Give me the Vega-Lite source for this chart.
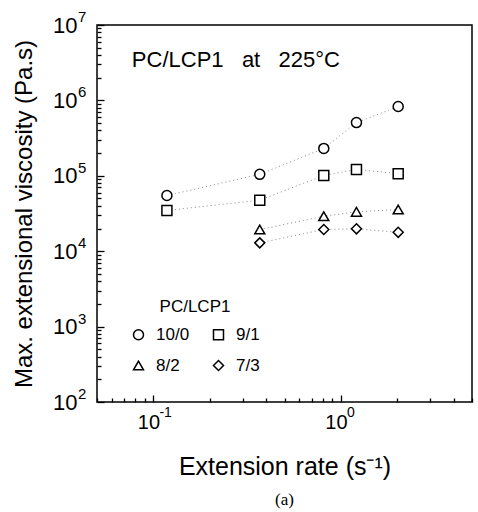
{
  "$schema": "https://vega.github.io/schema/vega-lite/v6.json",
  "width": 375,
  "height": 377,
  "autosize": {"type": "none"},
  "padding": {"left": 97, "top": 25, "right": 6, "bottom": 110},
  "config": {
    "font": "Liberation Sans",
    "view": {"stroke": "black", "strokeWidth": 1.5},
    "axis": {"grid": false, "domain": false, "ticks": true, "zindex": 1, "labelColor": "black", "titleColor": "black", "labelFont": "Liberation Sans", "titleFont": "Liberation Sans", "titleFontWeight": "normal", "labelFlush": false, "labelOverlap": false}
  },
  "title": {"text": "(a)", "orient": "bottom", "font": "Liberation Serif", "fontSize": 17, "fontWeight": "normal", "color": "black", "offset": 13},
  "datasets": {
    "pts": [
      {"series": "10/0", "rate": 0.118, "visc": 54800},
      {"series": "10/0", "rate": 0.369, "visc": 104500},
      {"series": "10/0", "rate": 0.81, "visc": 231000},
      {"series": "10/0", "rate": 1.21, "visc": 508000},
      {"series": "10/0", "rate": 2.02, "visc": 830000},
      {"series": "9/1", "rate": 0.118, "visc": 34700},
      {"series": "9/1", "rate": 0.369, "visc": 47500},
      {"series": "9/1", "rate": 0.81, "visc": 101000},
      {"series": "9/1", "rate": 1.21, "visc": 121600},
      {"series": "9/1", "rate": 2.02, "visc": 106600},
      {"series": "8/2", "rate": 0.369, "visc": 19400},
      {"series": "8/2", "rate": 0.81, "visc": 29100},
      {"series": "8/2", "rate": 1.21, "visc": 33300},
      {"series": "8/2", "rate": 2.02, "visc": 35700},
      {"series": "7/3", "rate": 0.369, "visc": 12900},
      {"series": "7/3", "rate": 0.81, "visc": 19400},
      {"series": "7/3", "rate": 1.21, "visc": 19800},
      {"series": "7/3", "rate": 2.02, "visc": 17800}
    ],
    "note": [
      {"rate": 0.0767, "visc": 3470000, "label": "PC/LCP1\u00a0\u00a0\u00a0at\u00a0\u00a0\u00a0225°C"}
    ],
    "yexp": [
      {"rate": 0.05, "visc": 100, "exp": "2"},
      {"rate": 0.05, "visc": 1000, "exp": "3"},
      {"rate": 0.05, "visc": 10000, "exp": "4"},
      {"rate": 0.05, "visc": 100000, "exp": "5"},
      {"rate": 0.05, "visc": 1000000, "exp": "6"},
      {"rate": 0.05, "visc": 10000000, "exp": "7"}
    ],
    "xexp": [
      {"rate": 0.1, "visc": 100, "exp": "-1"},
      {"rate": 1, "visc": 100, "exp": "0"}
    ]
  },
  "resolve": {"axis": {"x": "independent", "y": "independent"}},
  "layer": [
    {
      "data": {"name": "pts"},
      "mark": {"type": "line", "color": "#888888", "strokeWidth": 1, "strokeDash": [1, 3]},
      "encoding": {
        "x": {
          "field": "rate", "type": "quantitative",
          "scale": {"type": "log", "domain": [0.05, 5], "nice": false},
          "axis": {
            "orient": "bottom",
            "title": null,
            "labels": false,
            "offset": -4,
            "tickSize": 4,
            "tickColor": "black",
            "tickWidth": 1.3,
            "values": [0.05, 0.06, 0.07, 0.08, 0.09, 0.2, 0.3, 0.4, 0.5, 0.6, 0.7, 0.8, 0.9, 2, 3, 4, 5]
          }
        },
        "y": {
          "field": "visc", "type": "quantitative",
          "scale": {"type": "log", "domain": [100, 10000000], "nice": false},
          "axis": {
            "orient": "left",
            "title": null,
            "labels": false,
            "offset": -4,
            "tickSize": 4,
            "tickColor": "black",
            "tickWidth": 1.3,
            "values": [200, 300, 400, 500, 600, 700, 800, 900, 2000, 3000, 4000, 5000, 6000, 7000, 8000, 9000, 20000, 30000, 40000, 50000, 60000, 70000, 80000, 90000, 200000, 300000, 400000, 500000, 600000, 700000, 800000, 900000, 2000000, 3000000, 4000000, 5000000, 6000000, 7000000, 8000000, 9000000]
          }
        },
        "detail": {"field": "series"}
      }
    },
    {
      "data": {"name": "pts"},
      "mark": {"type": "point", "filled": true, "fill": "white", "stroke": "black", "strokeWidth": 1.5, "opacity": 1},
      "encoding": {
        "x": {
          "field": "rate", "type": "quantitative",
          "axis": {
            "orient": "bottom",
            "title": "Extension rate (s⁻¹)",
            "titleFontSize": 25,
            "titlePadding": 22,
            "labelFontSize": 20,
            "labelPadding": 10,
            "labelOffset": -5,
            "offset": -7,
            "tickSize": 7,
            "tickColor": "black",
            "tickWidth": 1.3,
            "values": [0.1, 1],
            "labelExpr": "'10'"
          }
        },
        "y": {
          "field": "visc", "type": "quantitative",
          "axis": {
            "orient": "left",
            "title": "Max. extensional viscosity (Pa.s)",
            "titleFontSize": 24,
            "titlePadding": 16,
            "labelFontSize": 22,
            "labelPadding": 20,
            "offset": -7,
            "tickSize": 7,
            "tickColor": "black",
            "tickWidth": 1.3,
            "values": [100, 1000, 10000, 100000, 1000000, 10000000],
            "labelExpr": "'10'"
          }
        },
        "shape": {
          "field": "series", "type": "nominal",
          "scale": {"domain": ["10/0", "9/1", "8/2", "7/3"], "range": ["circle", "square", "triangle-up", "diamond"]},
          "legend": {
            "title": "PC/LCP1",
            "orient": "none",
            "legendX": 33,
            "legendY": 274,
            "columns": 2,
            "direction": "horizontal",
            "titleFontSize": 17,
            "titleFontWeight": "normal",
            "titleColor": "black",
            "titleAnchor": "middle",
            "titlePadding": 10,
            "labelFontSize": 17,
            "labelColor": "black",
            "labelOffset": 9,
            "columnPadding": 20,
            "rowPadding": 13,
            "symbolStrokeColor": "black",
            "symbolFillColor": "white",
            "symbolStrokeWidth": 1.5,
            "padding": 0
          }
        },
        "size": {
          "field": "series", "type": "nominal",
          "scale": {"domain": ["10/0", "9/1", "8/2", "7/3"], "range": [100, 100, 170, 160]}
        }
      }
    },
    {
      "data": {"name": "note"},
      "mark": {"type": "text", "align": "left", "baseline": "middle", "fontSize": 22, "color": "black"},
      "encoding": {
        "x": {"field": "rate", "type": "quantitative", "axis": null},
        "y": {"field": "visc", "type": "quantitative", "axis": null},
        "text": {"field": "label"}
      }
    },
    {
      "data": {"name": "yexp"},
      "mark": {"type": "text", "align": "left", "baseline": "middle", "fontSize": 15, "color": "black", "dx": -19, "dy": -8},
      "encoding": {
        "x": {"field": "rate", "type": "quantitative", "axis": null},
        "y": {"field": "visc", "type": "quantitative", "axis": null},
        "text": {"field": "exp"}
      }
    },
    {
      "data": {"name": "xexp"},
      "mark": {"type": "text", "align": "left", "baseline": "middle", "fontSize": 14, "color": "black", "dx": 6, "dy": 11},
      "encoding": {
        "x": {"field": "rate", "type": "quantitative", "axis": null},
        "y": {"field": "visc", "type": "quantitative", "axis": null},
        "text": {"field": "exp"}
      }
    }
  ]
}
